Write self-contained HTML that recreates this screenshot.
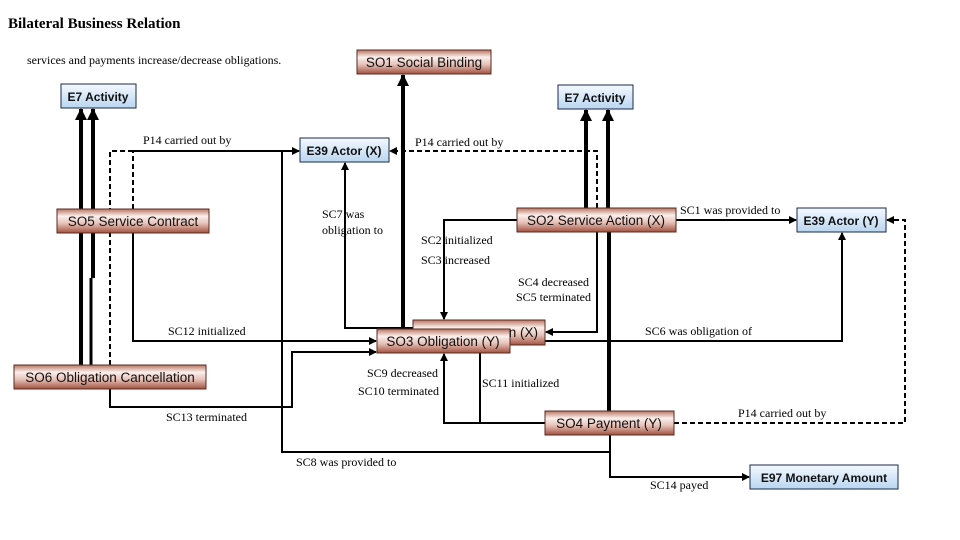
<!DOCTYPE html>
<html><head><meta charset="utf-8"><style>
html,body{margin:0;padding:0;background:#fff;}
svg{display:block;}
.s{font-family:"Liberation Serif",serif;font-size:12px;fill:#000;}
.so{font-family:"Liberation Sans",sans-serif;font-size:13.5px;fill:#111;}
.e{font-family:"Liberation Sans",sans-serif;font-size:12px;font-weight:bold;fill:#111;}
</style></head><body>
<svg width="960" height="540" viewBox="0 0 960 540" xmlns="http://www.w3.org/2000/svg">
<defs>
<linearGradient id="br" x1="0" y1="0" x2="0" y2="1">
<stop offset="0" stop-color="#b77462"/><stop offset="0.3" stop-color="#fbefec"/><stop offset="0.6" stop-color="#e7c2b8"/><stop offset="1" stop-color="#a1513f"/>
</linearGradient>
<linearGradient id="bl" x1="0" y1="0" x2="0" y2="1">
<stop offset="0" stop-color="#f4f9ff"/><stop offset="1" stop-color="#b9d6f0"/>
</linearGradient>
<marker id="a" markerWidth="8" markerHeight="8" refX="7" refY="4" orient="auto" markerUnits="userSpaceOnUse"><path d="M0,0 L8,4 L0,8 z" fill="#000"/></marker>
<marker id="ab" markerWidth="12" markerHeight="12" refX="11" refY="6" orient="auto" markerUnits="userSpaceOnUse"><path d="M0,0 L12,6 L0,12 z" fill="#000"/></marker>
</defs>
<text x="8" y="28" style="font-family:'Liberation Serif',serif;font-size:15px;font-weight:bold">Bilateral Business Relation</text>
<text x="27" y="64" class="s">services and payments increase/decrease obligations.</text>

<g fill="none" stroke="#000">
<!-- thick lines -->
<line x1="81" y1="365" x2="81" y2="109" stroke-width="4" marker-end="url(#ab)"/>
<line x1="93" y1="278" x2="93" y2="109" stroke-width="4" marker-end="url(#ab)"/>
<line x1="91" y1="278" x2="91" y2="365" stroke-width="3"/>
<line x1="403" y1="327" x2="403" y2="75" stroke-width="4" marker-end="url(#ab)"/>
<line x1="586" y1="208" x2="586" y2="110" stroke-width="4" marker-end="url(#ab)"/>
<line x1="608" y1="208" x2="608" y2="110" stroke-width="4" marker-end="url(#ab)"/>
<line x1="609" y1="232" x2="609" y2="411" stroke-width="4"/>
<!-- dashed -->
<g stroke-width="2" stroke-dasharray="5,3">
<polyline points="110,365 110,151 133,151"/>
<polyline points="133,209 133,151"/>
<polyline points="597,208 597,151 390,151" marker-end="url(#a)"/>
<polyline points="674,423 905,423 905,220 887,220" marker-end="url(#a)"/>
</g>
<!-- solid thin -->
<g stroke-width="2">
<line x1="133" y1="151" x2="299" y2="151" marker-end="url(#a)"/>
<polyline points="282,151 282,452 610,452"/>
<polyline points="610,435 610,477 749,477" marker-end="url(#a)"/>
<polyline points="413,328 345,328 345,163" marker-end="url(#a)"/>
<polyline points="517,220 444,220 444,319" marker-end="url(#a)"/>
<polyline points="597,232 597,332 546,332" marker-end="url(#a)"/>
<line x1="676" y1="220" x2="796" y2="220" marker-end="url(#a)"/>
<polyline points="545,341 842,341 842,233" marker-end="url(#a)"/>
<polyline points="133,233 133,341 376,341" marker-end="url(#a)"/>
<polyline points="110,389 110,407 292,407 292,352 376,352" marker-end="url(#a)"/>
<polyline points="545,423 444,423 444,354" marker-end="url(#a)"/>
<line x1="480" y1="353" x2="480" y2="423"/>
</g>
</g>

<!-- boxes -->
<g stroke="#5a2a20" stroke-width="1">
<rect x="357" y="50" width="134" height="24" fill="url(#br)"/>
<rect x="57" y="209" width="152" height="24" fill="url(#br)"/>
<rect x="517" y="208" width="159" height="24" fill="url(#br)"/>
<rect x="413" y="320" width="132" height="25" fill="url(#br)"/>
<rect x="377" y="329" width="133" height="24" fill="url(#br)"/>
<rect x="14" y="365" width="192" height="24" fill="url(#br)"/>
<rect x="545" y="411" width="129" height="24" fill="url(#br)"/>
</g>
<g stroke="#1a2a4a" stroke-width="1">
<rect x="61" y="84" width="75" height="24" fill="url(#bl)"/>
<rect x="558" y="85" width="75" height="24" fill="url(#bl)"/>
<rect x="300" y="138" width="89" height="24" fill="url(#bl)"/>
<rect x="797" y="208" width="89" height="24" fill="url(#bl)"/>
<rect x="750" y="465" width="148" height="24" fill="url(#bl)"/>
</g>
<text x="424" y="67" class="so" text-anchor="middle">SO1 Social Binding</text>
<text x="133" y="226" class="so" text-anchor="middle">SO5 Service Contract</text>
<text x="596" y="225" class="so" text-anchor="middle">SO2 Service Action (X)</text>
<text x="538" y="337" class="so" text-anchor="end">n (X)</text>
<text x="443" y="346" class="so" text-anchor="middle">SO3 Obligation (Y)</text>
<text x="110" y="382" class="so" text-anchor="middle">SO6 Obligation Cancellation</text>
<text x="609" y="428" class="so" text-anchor="middle">SO4 Payment (Y)</text>
<text x="98" y="101" class="e" text-anchor="middle">E7 Activity</text>
<text x="595" y="102" class="e" text-anchor="middle">E7 Activity</text>
<text x="344" y="155" class="e" text-anchor="middle">E39 Actor (X)</text>
<text x="841" y="225" class="e" text-anchor="middle">E39 Actor (Y)</text>
<text x="824" y="482" class="e" text-anchor="middle">E97 Monetary Amount</text>

<g class="s">
<text x="143" y="144">P14 carried out by</text>
<text x="415" y="146">P14 carried out by</text>
<text x="322" y="218">SC7 was</text>
<text x="322" y="234">obligation to</text>
<text x="421" y="244">SC2 initialized</text>
<text x="421" y="264">SC3 increased</text>
<text x="518" y="286">SC4 decreased</text>
<text x="516" y="301">SC5 terminated</text>
<text x="680" y="214">SC1 was provided to</text>
<text x="645" y="335">SC6 was obligation of</text>
<text x="168" y="335">SC12 initialized</text>
<text x="367" y="377">SC9 decreased</text>
<text x="358" y="395">SC10 terminated</text>
<text x="482" y="387">SC11 initialized</text>
<text x="166" y="421">SC13 terminated</text>
<text x="738" y="417">P14 carried out by</text>
<text x="296" y="466">SC8 was provided to</text>
<text x="650" y="489">SC14 payed</text>
</g>
</svg>
</body></html>
